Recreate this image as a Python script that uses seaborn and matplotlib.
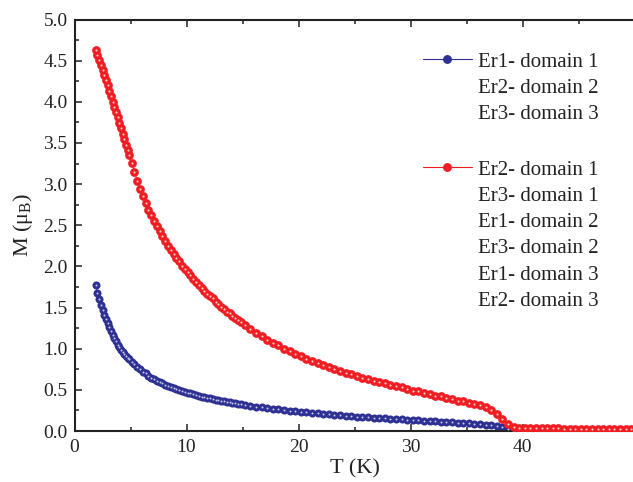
import seaborn as sns
import matplotlib.pyplot as plt
from matplotlib.lines import Line2D
from matplotlib.ticker import MultipleLocator, FixedLocator

# temperatures (K)
temp_low = [1.9, 2.05, 2.2, 2.35, 2.5, 2.65, 2.8, 2.95, 3.1, 3.25,
            3.4, 3.55, 3.7, 3.85, 4.0, 4.15, 4.3, 4.45, 4.6, 4.75, 4.9]
temp_mid = [5.1, 5.35, 5.6, 5.85, 6.1, 6.35, 6.6, 6.85, 7.1, 7.35,
            7.6, 7.85, 8.1, 8.35, 8.6, 8.85, 9.1, 9.35, 9.6, 9.85,
            10.1, 10.35, 10.6, 10.85, 11.1, 11.35, 11.6, 11.85, 12.1, 12.35,
            12.6, 12.85, 13.1, 13.35, 13.6, 13.85, 14.1, 14.35, 14.6, 14.85]
temp_high = [15.2, 15.7, 16.2, 16.7, 17.2, 17.7, 18.2, 18.7, 19.2, 19.7,
             20.2, 20.7, 21.2, 21.7, 22.2, 22.7, 23.2, 23.7, 24.2, 24.7,
             25.2, 25.7, 26.2, 26.7, 27.2, 27.7, 28.2, 28.7, 29.2, 29.7,
             30.2, 30.7, 31.2, 31.7, 32.2, 32.7, 33.2, 33.7, 34.2, 34.7,
             35.2, 35.7, 36.2, 36.7, 37.2, 37.7, 38.2, 38.7, 39.2, 39.7,
             40.2, 40.7, 41.2, 41.7, 42.2, 42.7, 43.2, 43.7, 44.2, 44.7,
             45.2, 45.7, 46.2, 46.7, 47.2, 47.7, 48.2, 48.7, 49.2, 49.7]

# M (mu_B) of the red group (Er2-d1, Er3-d1, Er1-d2, ...)
m_red = [4.63, 4.57, 4.51, 4.45, 4.39, 4.33, 4.26, 4.20, 4.13, 4.07,
         4.00, 3.94, 3.87, 3.81, 3.74, 3.68, 3.61, 3.55, 3.48, 3.42, 3.35,
         3.26, 3.15, 3.04, 2.94, 2.85, 2.77, 2.69, 2.62, 2.55, 2.49,
         2.43, 2.37, 2.31, 2.25, 2.20, 2.15, 2.10, 2.06, 2.01, 1.97,
         1.93, 1.89, 1.85, 1.81, 1.78, 1.74, 1.70, 1.67, 1.64, 1.61,
         1.57, 1.54, 1.51, 1.48, 1.45, 1.43, 1.40, 1.37, 1.35, 1.32,
         1.29, 1.24, 1.19, 1.15, 1.11, 1.07, 1.04, 1.00, 0.97, 0.94,
         0.91, 0.88, 0.85, 0.83, 0.80, 0.78, 0.75, 0.73, 0.71, 0.69,
         0.67, 0.65, 0.63, 0.61, 0.59, 0.58, 0.56, 0.55, 0.53, 0.51,
         0.49, 0.48, 0.46, 0.45, 0.43, 0.42, 0.40, 0.39, 0.37, 0.36,
         0.34, 0.33, 0.31, 0.29, 0.26, 0.21, 0.14, 0.08, 0.05, 0.042,
         0.039, 0.037, 0.035, 0.034, 0.033, 0.032, 0.031, 0.030, 0.029, 0.029,
         0.028, 0.028, 0.027, 0.027, 0.026, 0.026, 0.025, 0.025, 0.024, 0.024]

# M (mu_B) of the blue group (Er1-d1, Er2-d2, Er3-d3)
m_blue = [1.77, 1.68, 1.60, 1.53, 1.47, 1.41, 1.36, 1.31, 1.26, 1.21,
          1.17, 1.13, 1.09, 1.05, 1.02, 0.99, 0.96, 0.94, 0.91, 0.89, 0.87,
          0.84, 0.81, 0.78, 0.75, 0.72, 0.70, 0.67, 0.65, 0.63, 0.61,
          0.595, 0.58, 0.565, 0.55, 0.535, 0.52, 0.51, 0.50, 0.485, 0.475,
          0.466, 0.456, 0.446, 0.436, 0.427, 0.419, 0.411, 0.403, 0.397, 0.389,
          0.381, 0.374, 0.367, 0.361, 0.355, 0.349, 0.343, 0.337, 0.331, 0.325,
          0.316, 0.306, 0.296, 0.286, 0.277, 0.269, 0.262, 0.254, 0.247, 0.239,
          0.232, 0.225, 0.218, 0.213, 0.207, 0.201, 0.195, 0.190, 0.185, 0.180,
          0.175, 0.170, 0.165, 0.161, 0.156, 0.152, 0.148, 0.144, 0.140, 0.136,
          0.132, 0.128, 0.124, 0.120, 0.116, 0.112, 0.108, 0.104, 0.100, 0.096,
          0.092, 0.088, 0.083, 0.078, 0.072, 0.064, 0.048, 0.020, 0.005]

labels_blue = ['Er1- domain 1', 'Er2- domain 2', 'Er3- domain 3']
labels_red = ['Er2- domain 1', 'Er3- domain 1', 'Er1- domain 2',
              'Er3- domain 2', 'Er1- domain 3', 'Er2- domain 3']

blue = '#2e3192'
blue_hi = '#c8c8f0'
red = '#f01e24'
red_hi = '#ffd8c8'

temp = temp_low + temp_mid + temp_high
temp_blue = temp[:len(m_blue)]

sns.set_style('ticks')
plt.rcParams['font.family'] = ['Liberation Serif', 'DejaVu Serif']
plt.rcParams['mathtext.fontset'] = 'custom'
plt.rcParams['mathtext.rm'] = 'Liberation Serif'

fig = plt.figure(figsize=(6.33, 4.82), dpi=100)
ax = fig.add_axes([74.5 / 633, 51 / 482, 560 / 633, 411.5 / 482])

# blue group, then red on top (like the reference)
sns.lineplot(x=temp_blue, y=m_blue, ax=ax, color=blue, linewidth=0.8,
             marker='o', markersize=5.8, markeredgewidth=0,
             sort=False, estimator=None, legend=False)
sns.scatterplot(x=temp_blue, y=m_blue, ax=ax, color=blue_hi, s=2.0,
                linewidth=0, legend=False, zorder=3)
sns.lineplot(x=temp, y=m_red, ax=ax, color=red, linewidth=0.8,
             marker='o', markersize=6.3, markeredgewidth=0,
             sort=False, estimator=None, legend=False, zorder=4)
sns.scatterplot(x=temp, y=m_red, ax=ax, color=red_hi, s=2.2,
                linewidth=0, legend=False, zorder=5)

ax.set_xlim(0, 50)
ax.set_ylim(0, 5)
ax.xaxis.set_major_locator(FixedLocator([0, 10, 20, 30, 40]))
ax.xaxis.set_minor_locator(FixedLocator([5, 15, 25, 35, 45]))
ax.yaxis.set_major_locator(MultipleLocator(0.5))
ax.yaxis.set_minor_locator(MultipleLocator(0.25))
ax.yaxis.set_major_formatter(plt.FormatStrFormatter('%.1f'))

ax.tick_params(which='both', direction='in', top=True, right=False,
               width=1.1, color='#222222', labelcolor='#222222', labelsize=14)
ax.tick_params(which='major', length=5)
ax.tick_params(which='minor', length=3)
ax.tick_params(axis='x', pad=6)
ax.tick_params(axis='y', pad=5)
for s in ax.spines.values():
    s.set_linewidth(1.5)
    s.set_color('#222222')
ax.spines['right'].set_visible(False)

ax.set_xlabel('T (K)', fontsize=16, color='#222222', labelpad=2)
ax.set_ylabel('M (μ$_\\mathrm{B}$)', fontsize=16, color='#222222', labelpad=6)

# legends: one marker handle per group, the other rows are text only
blank = Line2D([], [], linestyle='none')
leg_kw = dict(loc='upper left', bbox_transform=fig.transFigure, frameon=False,
              fontsize=15, borderpad=0, borderaxespad=0, handlelength=2.35,
              handletextpad=0.3, labelspacing=0.32, labelcolor='#222222')


def ball(col):
    return Line2D([], [], color=col, linewidth=0.8, marker='o',
                  markersize=6.4, markeredgewidth=0)


leg1 = ax.legend([ball(blue)] + [blank] * 2, labels_blue,
                 bbox_to_anchor=(423 / 633, 1 - 52 / 482), **leg_kw)
ax.add_artist(leg1)
ax.legend([ball(red)] + [blank] * 5, labels_red,
          bbox_to_anchor=(423 / 633, 1 - 160 / 482), **leg_kw)

fig.savefig('out.png', dpi=100)
